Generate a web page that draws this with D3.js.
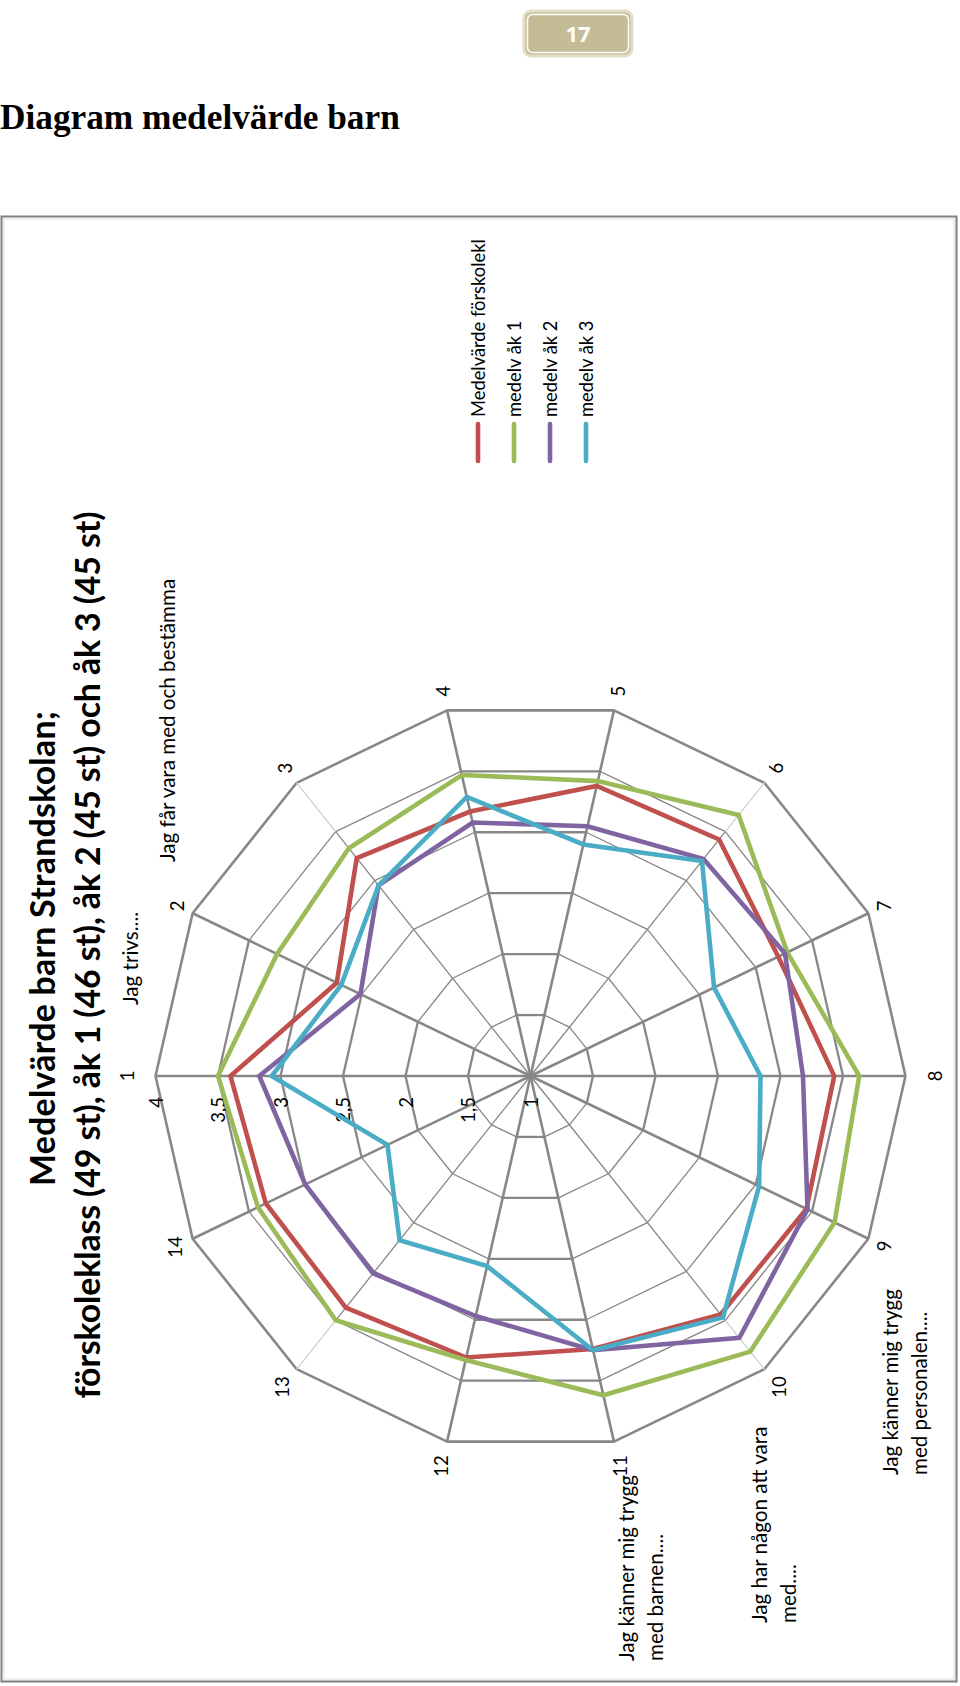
<!DOCTYPE html>
<html><head><meta charset="utf-8">
<script src="https://cdn.jsdelivr.net/npm/d3@7"></script>
<style>html,body{margin:0;padding:0;background:#fff;}svg{display:block;}</style>
</head><body>
<svg id="c" width="960" height="1686"></svg>
<script>
// ---- data ----
const categories = ["1","2","3","4","5","6","7","8","9","10","11","12","13","14"];
const seriesNames = ["Medelvärde förskolekl","medelv åk 1","medelv åk 2","medelv åk 3"];
const seriesColors = ["#C0504D","#9BBB59","#8064A2","#4BACC6"];
const forskoleklass = [3.40, 2.72, 3.23, 3.17, 3.38, 3.42, 3.20, 3.43, 3.45, 3.44, 3.24, 3.31, 3.37, 3.35];
const ak1           = [3.50, 3.25, 3.33, 3.47, 3.42, 3.67, 3.28, 3.63, 3.70, 3.82, 3.62, 3.33, 3.50, 3.42];
const ak2           = [3.17, 2.51, 2.95, 3.08, 3.05, 3.22, 3.26, 3.18, 3.46, 3.68, 3.25, 2.97, 3.02, 3.00];
const ak3           = [3.07, 2.68, 2.95, 3.29, 2.90, 3.20, 2.63, 2.84, 3.03, 3.47, 3.25, 2.56, 2.68, 2.27];
const tickValues = [1, 1.5, 2, 2.5, 3, 3.5, 4];
const tickLabels = ["1","1,5","2","2,5","3","3,5","4"];
const titleLines = ["Medelvärde barn Strandskolan;", "förskoleklass (49 st), åk 1 (46 st), åk 2 (45 st) och åk 3 (45 st)"];
const catNotes = [
  {lines:["Jag trivs...."], x:130, y:1005},
  {lines:["Jag får vara med och bestämma"], x:167, y:862},
  {lines:["Jag känner mig trygg","med personalen...."], x:890, y:1475},
  {lines:["Jag har någon att vara","med...."], x:759, y:1623},
  {lines:["Jag känner mig trygg","med barnen...."], x:626, y:1661}
];
const pageNumber = "17";
const heading = "Diagram medelvärde barn";

// ---- layout ----
const svg = d3.select("#c");
const FONT = "Lato, 'Open Sans', sans-serif";
const cx = 530.5, cy = 1076, R = 375;
const N = categories.length;
const r = d3.scaleLinear().domain([1, 4]).range([0, R]);
const ang = i => -Math.PI / 2 + i * 2 * Math.PI / N;   // d3 radial convention
const pt = (i, v) => [cx + r(v) * Math.sin(ang(i)), cy - r(v) * Math.cos(ang(i))];

function fit(sel, target) {
  const l = sel.node().getComputedTextLength();
  const fs = parseFloat(sel.attr("font-size"));
  const nfs = fs * target / l;
  sel.attr("font-size", nfs);
  return nfs;
}

// page number box
const pb = svg.append("g");
pb.append("rect").attr("x", 524).attr("y", 11).attr("width", 108).attr("height", 45).attr("rx", 7)
  .attr("fill", "#c4bc96").attr("stroke", "#e2ddc8").attr("stroke-width", 3);
pb.append("rect").attr("x", 527.5).attr("y", 14.5).attr("width", 101).attr("height", 38).attr("rx", 5)
  .attr("fill", "none").attr("stroke", "#ffffff").attr("stroke-width", 1.5);
pb.append("text").attr("x", 578).attr("y", 42).attr("text-anchor", "middle")
  .attr("font-family", "'Open Sans', Lato, sans-serif").attr("font-weight", 700).attr("font-size", 22)
  .attr("fill", "#fff").text(pageNumber);

// heading
const hd = svg.append("text").attr("x", 0).attr("y", 129)
  .attr("font-family", "'Liberation Serif', serif").attr("font-weight", 700).attr("font-size", 35)
  .attr("fill", "#000").text(heading);
fit(hd, 400);

// chart border
svg.append("rect").attr("x", 1.5).attr("y", 216.5).attr("width", 955).attr("height", 1465)
  .attr("fill", "none").attr("stroke", "#7f7f7f").attr("stroke-width", 2);
svg.append("rect").attr("x", 4).attr("y", 219).attr("width", 950).attr("height", 1460)
  .attr("fill", "none").attr("stroke", "#dedede").attr("stroke-width", 1);

// grid
const grid = svg.append("g").attr("stroke", "#878787").attr("fill", "none");
const orientW = (a, b, thick, thin, thr) => {
  const dx = b[0] - a[0], dy = b[1] - a[1];
  let deg = Math.abs(Math.atan2(dy, dx) * 180 / Math.PI) % 90;
  deg = Math.min(deg, 90 - deg);
  return deg < thr ? thick : thin;
};
tickValues.slice(1).forEach(v => {
  for (let i = 0; i < N; i++) {
    const a = pt(i, v), b = pt((i + 1) % N, v);
    const outer = v === 4;
    grid.append("line").attr("x1", a[0]).attr("y1", a[1]).attr("x2", b[0]).attr("y2", b[1])
      .attr("stroke-width", outer ? 2.6 : orientW(a, b, 2.3, 1.3, 18));
  }
});
for (let i = 0; i < N; i++) {
  const a = pt(i, 1), b = pt(i, 4);
  const w = orientW(a, b, 2.6, 1.3, 30);
  if (w < 2) {
    const m = pt(i, 3.5);
    grid.append("line").attr("x1", a[0]).attr("y1", a[1]).attr("x2", m[0]).attr("y2", m[1]).attr("stroke-width", w);
    grid.append("line").attr("x1", m[0]).attr("y1", m[1]).attr("x2", b[0]).attr("y2", b[1])
      .attr("stroke-width", w).attr("stroke", "#cfcfcf");
  } else {
    grid.append("line").attr("x1", a[0]).attr("y1", a[1]).attr("x2", b[0]).attr("y2", b[1]).attr("stroke-width", w);
  }
}

// rotated text helper
function rtext(g, x, y, txt, opts) {
  return g.append("text").attr("transform", `translate(${x},${y}) rotate(-90)`)
    .attr("text-anchor", opts.anchor || "start").attr("dominant-baseline", "central")
    .attr("font-family", FONT).attr("font-size", opts.size || 18)
    .attr("font-weight", opts.weight || 400).attr("fill", "#000").text(txt);
}

// value tick labels along axis 1
const tl = svg.append("g");
tickValues.forEach((v, k) => {
  const p = pt(0, v);
  rtext(tl, p[0], cy + 21, tickLabels[k], {anchor: "end", size: 18.5});
});

// category number labels
const cl = svg.append("g");
categories.forEach((c, i) => {
  const dx = Math.sin(ang(i)), dy = -Math.cos(ang(i));
  const t = rtext(cl, 0, 0, c, {anchor: "middle", size: 18.5});
  const w = t.node().getComputedTextLength();
  const d = R + (Math.abs(dx) > 0.99 ? 29 : 14.5) + Math.abs(dy) * w / 2;
  t.attr("transform", `translate(${cx + d * dx},${cy + d * dy}) rotate(-90)`);
});

// category notes
const nl = svg.append("g");
let noteSize = null;
catNotes.forEach(n => {
  n.lines.forEach((s, j) => {
    const t = rtext(nl, n.x + j * 29, n.y, s, {anchor: "start", size: 20});
    if (noteSize === null && s === "Jag känner mig trygg") noteSize = fit(t, 186);
  });
});
nl.selectAll("text").attr("font-size", noteSize);

// series
const line = d3.lineRadial().angle((d, i) => ang(i)).radius(d => r(d)).curve(d3.curveLinearClosed);
const sg = svg.append("g").attr("transform", `translate(${cx},${cy})`);
[forskoleklass, ak1, ak2, ak3].forEach((s, k) => {
  sg.append("path").attr("d", line(s)).attr("fill", "none").attr("stroke", seriesColors[k])
    .attr("stroke-width", 4.6).attr("stroke-linejoin", "miter");
});

// legend
const lg = svg.append("g");
const legX = [478, 514, 550, 586];
let legSize = null;
seriesNames.forEach((s, k) => {
  lg.append("line").attr("x1", legX[k]).attr("x2", legX[k]).attr("y1", 424).attr("y2", 461)
    .attr("stroke", seriesColors[k]).attr("stroke-width", 4.6).attr("stroke-linecap", "round");
  const t = rtext(lg, legX[k], 417, s, {anchor: "start", size: 18});
  if (k === 0) legSize = fit(t, 178);
});
lg.selectAll("text").attr("font-size", legSize);

// title
const tg = svg.append("g");
const t1 = rtext(tg, 41, 1186, titleLines[0], {anchor: "start", size: 30, weight: 700});
const t2 = rtext(tg, 86, 955, titleLines[1], {anchor: "middle", size: 30, weight: 700});
const f1 = fit(t1, 475), f2 = fit(t2, 887);
const fs = (f1 + f2) / 2;
t1.attr("font-size", fs).attr("textLength", 475).attr("lengthAdjust", "spacing");
t2.attr("font-size", fs).attr("textLength", 887).attr("lengthAdjust", "spacing");
</script>
</body></html>
